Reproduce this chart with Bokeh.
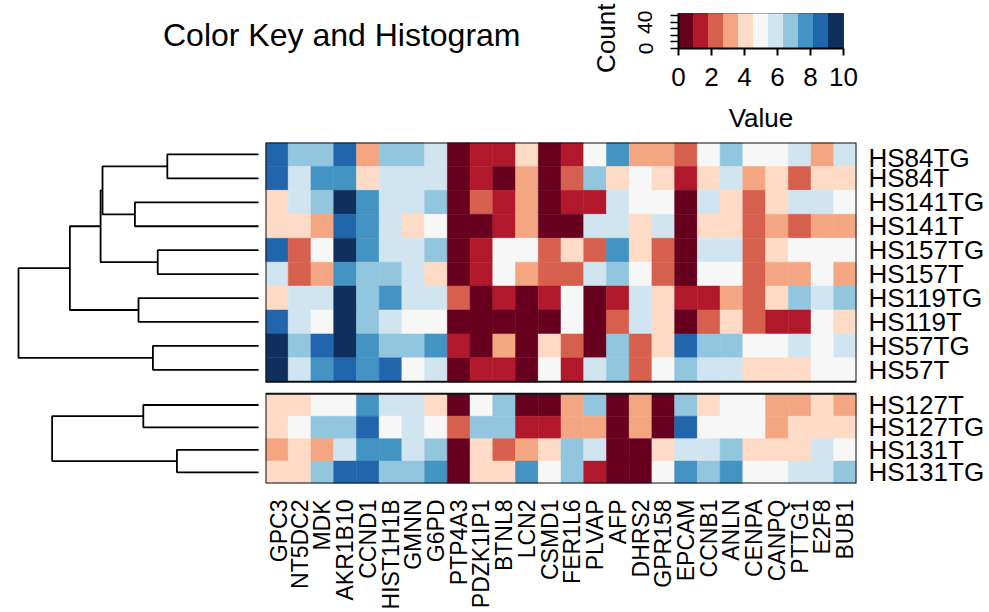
import math
from bokeh.plotting import figure
from bokeh.layouts import column, row
from bokeh.models import Range1d, FixedTicker, Title, Div
from bokeh.embed import file_html
from bokeh.resources import INLINE
from bokeh.transform import linear_cmap

# ---------------- data ----------------
genes = ["GPC3", "NT5DC2", "MDK", "AKR1B10", "CCND1", "HIST1H1B", "GMNN", "G6PD",
         "PTP4A3", "PDZK1IP1", "BTNL8", "LCN2", "CSMD1", "FER1L6", "PLVAP", "AFP",
         "DHRS2", "GPR158", "EPCAM", "CCNB1", "ANLN", "CENPA", "CANPQ", "PTTG1",
         "E2F8", "BUB1"]

top_samples = ["HS84TG", "HS84T", "HS141TG", "HS141T", "HS157TG", "HS157T",
               "HS119TG", "HS119T", "HS57TG", "HS57T"]
bottom_samples = ["HS127T", "HS127TG", "HS131T", "HS131TG"]

top_values = [
    [9, 7, 7, 9, 3, 7, 7, 6, 0, 1, 1, 4, 0, 1, 5, 8, 3, 3, 2, 5, 7, 5, 5, 6, 3, 6],
    [9, 6, 8, 8, 4, 6, 6, 6, 0, 1, 0, 3, 0, 2, 7, 4, 5, 4, 1, 4, 6, 3, 4, 2, 4, 4],
    [4, 6, 7, 10, 8, 6, 6, 7, 0, 2, 1, 3, 0, 1, 1, 6, 5, 5, 0, 6, 4, 2, 4, 6, 6, 5],
    [4, 4, 3, 9, 8, 6, 4, 5, 0, 0, 1, 3, 0, 0, 6, 6, 4, 6, 0, 4, 4, 2, 3, 2, 3, 3],
    [9, 2, 5, 10, 8, 6, 6, 7, 0, 1, 5, 5, 2, 4, 2, 8, 4, 2, 0, 6, 6, 2, 4, 5, 5, 5],
    [6, 2, 3, 8, 7, 7, 6, 4, 0, 1, 5, 3, 2, 2, 6, 7, 5, 2, 0, 5, 5, 2, 3, 3, 5, 3],
    [4, 6, 6, 10, 7, 8, 6, 6, 2, 0, 1, 0, 1, 5, 0, 1, 6, 4, 1, 1, 3, 2, 4, 7, 6, 7],
    [9, 6, 5, 10, 7, 6, 5, 5, 0, 0, 0, 0, 0, 5, 0, 2, 6, 4, 0, 2, 4, 2, 1, 1, 5, 4],
    [10, 7, 9, 10, 8, 7, 7, 8, 1, 0, 3, 0, 4, 2, 0, 7, 2, 4, 9, 7, 7, 5, 5, 6, 5, 6],
    [10, 6, 8, 9, 8, 9, 5, 6, 0, 1, 1, 0, 5, 1, 6, 7, 2, 5, 7, 6, 6, 4, 4, 4, 5, 5],
]
bottom_values = [
    [4, 4, 5, 5, 8, 6, 6, 4, 0, 5, 7, 0, 0, 3, 7, 0, 3, 0, 7, 4, 5, 5, 3, 3, 4, 3],
    [4, 5, 7, 7, 9, 5, 6, 5, 2, 7, 7, 1, 1, 3, 3, 0, 3, 0, 9, 5, 5, 5, 3, 4, 4, 4],
    [3, 4, 3, 6, 8, 8, 6, 7, 0, 4, 2, 3, 4, 7, 6, 0, 0, 4, 6, 6, 7, 4, 4, 4, 6, 5],
    [4, 4, 7, 9, 9, 7, 7, 8, 0, 4, 4, 8, 5, 7, 1, 0, 0, 5, 8, 7, 8, 5, 5, 6, 6, 7],
]

# dendrograms: (left, right, merge height)
top_tree = ((((("HS84TG", "HS84T", 3.8), ("HS141TG", "HS141T", 5.15), 6.5),
              ("HS157TG", "HS157T", 4.2), 6.58),
             ("HS119TG", "HS119T", 5.0), 7.86),
            ("HS57TG", "HS57T", 4.4), 10.0)
bottom_tree = (("HS127T", "HS127TG", 4.8), ("HS131T", "HS131TG", 3.4), 8.6)

key_ticks = [0, 2, 4, 6, 8, 10]
count_ticks = [0, 10, 20, 30, 40, 50]
count_labels = {0: "0", 40: "40"}
value_min, value_max = 0, 10
count_max = 53.5

palette = ["#67001f", "#b2182b", "#d6604d", "#f4a582", "#fddbc7", "#f7f7f7",
           "#d1e5f0", "#92c5de", "#4393c3", "#2166ac", "#0f305f"]

FONT = "Liberation Sans"

# ---------------- layout of rows ----------------
TOP_H, GAP, BOT_H = 1.0, 0.5, 0.9375
row_top, row_bot, row_center = {}, {}, {}
y = 0.0
for s in top_samples:
    row_top[s], row_bot[s], row_center[s] = y, y + TOP_H, y + TOP_H / 2
    y += TOP_H
top_block = (0.0, y)
y += GAP
b0 = y
for s in bottom_samples:
    row_top[s], row_bot[s], row_center[s] = y, y + BOT_H, y + BOT_H / 2
    y += BOT_H
bottom_block = (b0, y)
y_total = y

cells = dict(left=[], right=[], top=[], bottom=[], val=[])
for samples, values in ((top_samples, top_values), (bottom_samples, bottom_values)):
    for s, vals in zip(samples, values):
        for j, v in enumerate(vals):
            cells["left"].append(j - 0.5)
            cells["right"].append(j + 0.5)
            cells["top"].append(row_top[s])
            cells["bottom"].append(row_bot[s])
            cells["val"].append(v)

mapper = linear_cmap("val", palette, value_min, value_max)

# ---------------- title ----------------
TW = 560
title_div = Div(
    text=('<div style="position:absolute; left:163px; top:19px; white-space:nowrap; '
          'font-family:\'Liberation Sans\', Arial, sans-serif; font-size:32px; '
          'line-height:1; color:black;">Color Key and Histogram</div>'),
    width=TW, height=142, margin=0, styles={"position": "relative"})

# ---------------- colour key ----------------
key_fig = figure(width=989 - TW, height=142, x_range=Range1d(value_min, value_max),
                 y_range=Range1d(0, count_max), toolbar_location=None, output_backend="svg",
                 min_border_left=678 - TW, min_border_right=146, min_border_top=13,
                 min_border_bottom=94, outline_line_color="#333333")
key_fig.grid.visible = False
nbin = len(palette)
step = (value_max - value_min) / nbin
key_fig.quad(left=[value_min + i * step for i in range(nbin)],
             right=[value_min + (i + 1) * step for i in range(nbin)],
             bottom=0, top=count_max, fill_color=palette, line_color=palette)
xa = key_fig.xaxis[0]
xa.ticker = FixedTicker(ticks=key_ticks)
xa.minor_tick_line_color = None
xa.major_tick_out = 7
xa.major_tick_in = 0
xa.major_tick_line_width = 2
xa.major_label_standoff = 12
xa.major_label_text_font = FONT
xa.major_label_text_font_size = "26px"
xa.major_label_text_color = "black"
xa.axis_label = "Value"
xa.axis_label_text_font = FONT
xa.axis_label_text_font_size = "26px"
xa.axis_label_text_font_style = "normal"
xa.axis_label_text_color = "black"
xa.axis_label_standoff = 14
xa.axis_line_width = 2
ya = key_fig.yaxis[0]
ya.ticker = FixedTicker(ticks=count_ticks)
ya.major_label_overrides = {t: count_labels.get(t, "") for t in count_ticks}
ya.minor_tick_line_color = None
ya.major_tick_out = 8
ya.major_tick_in = 0
ya.major_tick_line_width = 1.5
ya.major_label_orientation = "vertical"
ya.major_label_standoff = 18
ya.major_label_text_font = FONT
ya.major_label_text_font_size = "21px"
ya.major_label_text_color = "black"
ya.axis_line_width = 2
key_fig.add_layout(Title(text="Count", align="right", offset=-10, standoff=30,
                         text_font=FONT, text_font_size="26px", text_font_style="normal",
                         text_color="black"), "left")

# ---------------- heatmap ----------------
heat_fig = figure(width=724, height=470, x_range=Range1d(-0.5, len(genes) - 0.5),
                  y_range=Range1d(y_total, 0), x_axis_location="below", y_axis_location="right",
                  toolbar_location=None, output_backend="svg", min_border_left=0,
                  min_border_right=133, min_border_top=0, min_border_bottom=128,
                  outline_line_color=None)
heat_fig.grid.visible = False
heat_fig.quad(left="left", right="right", top="top", bottom="bottom", source=cells,
              fill_color=mapper, line_color=mapper, line_width=0.5)
heat_fig.quad(left=[-0.5, -0.5], right=[len(genes) - 0.5] * 2,
              top=[top_block[0], bottom_block[0]], bottom=[top_block[1], bottom_block[1]],
              fill_color=None, line_color="#111111", line_width=2)

hx = heat_fig.xaxis[0]
hx.ticker = FixedTicker(ticks=list(range(len(genes))))
hx.major_label_overrides = {i: g for i, g in enumerate(genes)}
hx.major_label_orientation = math.pi / 2
hx.axis_line_color = None
hx.major_tick_line_color = None
hx.minor_tick_line_color = None
hx.major_label_standoff = 10
hx.major_label_text_font = FONT
hx.major_label_text_font_size = "23px"
hx.major_label_text_color = "black"

hy = heat_fig.yaxis[0]
all_samples = top_samples + bottom_samples
ticks = [row_center[s] for s in all_samples]
hy.ticker = FixedTicker(ticks=ticks)
hy.major_label_overrides = {row_center[s]: s for s in all_samples}
hy.axis_line_color = None
hy.major_tick_line_color = None
hy.minor_tick_line_color = None
hy.major_label_standoff = 6
hy.major_label_text_font = FONT
hy.major_label_text_font_size = "26px"
hy.major_label_text_color = "black"

# ---------------- dendrogram ----------------
dendro_fig = figure(width=265, height=470, x_range=Range1d(10.75, -0.29),
                    y_range=heat_fig.y_range, x_axis_location=None, y_axis_location=None,
                    toolbar_location=None, output_backend="svg", min_border_left=0,
                    min_border_right=0, min_border_top=0, min_border_bottom=128,
                    outline_line_color=None)
dendro_fig.grid.visible = False

xs, ys = [], []


def walk(node):
    if isinstance(node, str):
        return row_center[node], 0.0
    left, right, h = node
    y1, h1 = walk(left)
    y2, h2 = walk(right)
    xs.append([h1, h, h, h2])
    ys.append([y1, y1, y2, y2])
    return (y1 + y2) / 2, h


walk(top_tree)
walk(bottom_tree)
dendro_fig.multi_line(xs=xs, ys=ys, line_color="black", line_width=1.8)

layout = column(row(title_div, key_fig, spacing=0), row(dendro_fig, heat_fig, spacing=0), spacing=0)

open("out.html", "w").write(file_html(layout, INLINE, title="heatmap"))
